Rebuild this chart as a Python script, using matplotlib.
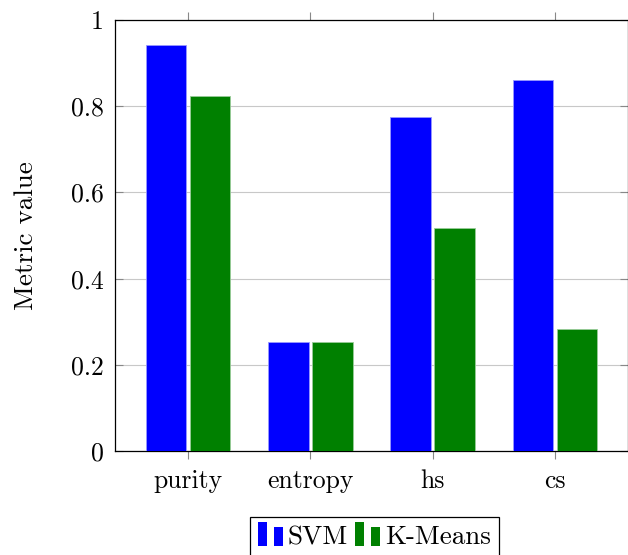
import numpy as np
import matplotlib.pyplot as plt
from matplotlib.legend_handler import HandlerBase
from matplotlib.patches import Rectangle

plt.rcParams.update({
    'font.family': 'cmr10',
    'mathtext.fontset': 'cm',
    'axes.formatter.use_mathtext': True,
    'font.size': 18.5,
})

# data
categories = ['purity', 'entropy', 'hs', 'cs']
svm = [0.942, 0.253, 0.775, 0.861]
kmeans = [0.824, 0.253, 0.517, 0.283]
yticks = [0, 0.2, 0.4, 0.6, 0.8, 1]
ytick_labels = ['0', '0.2', '0.4', '0.6', '0.8', '1']


class TwoBarHandler(HandlerBase):
    """pgfplots-style ybar legend image: two little bars"""
    def create_artists(self, legend, orig_handle, xdescent, ydescent,
                       width, height, fontsize, trans):
        fc = orig_handle.get_facecolor()
        w = width * 0.36
        r1 = Rectangle((-xdescent, -ydescent - height * 0.1), w, height * 1.3,
                       facecolor=fc, edgecolor='none', transform=trans)
        r2 = Rectangle((-xdescent + width * 0.64, -ydescent - height * 0.1), w, height * 1.0,
                       facecolor=fc, edgecolor='none', transform=trans)
        return [r1, r2]


fig = plt.figure(figsize=(6.28, 5.55), dpi=100)
ax = fig.add_axes([0.183, 0.187, 0.817, 0.777])

x = np.arange(len(categories))
w = 0.33
off = 0.18
b1 = ax.bar(x - off, svm, w, color='#0000ff', edgecolor='#9999ff', linewidth=0.6, zorder=3)
b2 = ax.bar(x + off, kmeans, w, color='#008000', edgecolor='#99cc99', linewidth=0.6, zorder=3)

ax.set_xlim(-0.6, 3.6)
ax.set_ylim(0, 1)
ax.set_xticks(x)
ax.set_xticklabels(categories)
ax.set_yticks(yticks)
ax.set_yticklabels(ytick_labels)
ax.yaxis.grid(True, color='#c8c8c8', linewidth=0.8, zorder=0)
ax.tick_params(axis='x', direction='out', top=True, length=6, color='#888888', pad=7)
ax.tick_params(axis='y', direction='in', right=True, length=6, color='#888888', pad=8)
for s in ax.spines.values():
    s.set_linewidth(0.9)
ax.set_ylabel('Metric value', labelpad=24, fontsize=19.5)

leg = ax.legend([b1.patches[0], b2.patches[0]], ['SVM', 'K-Means'],
                loc='upper center', bbox_to_anchor=(0.506, -0.153), ncol=2,
                frameon=True, fancybox=False, edgecolor='black', framealpha=1,
                handler_map={Rectangle: TwoBarHandler()}, fontsize=19.5,
                handlelength=0.92, handletextpad=0.18, columnspacing=0.26,
                borderpad=0.3, borderaxespad=0)
leg.get_frame().set_linewidth(0.9)

fig.savefig('out.png', dpi=100)
